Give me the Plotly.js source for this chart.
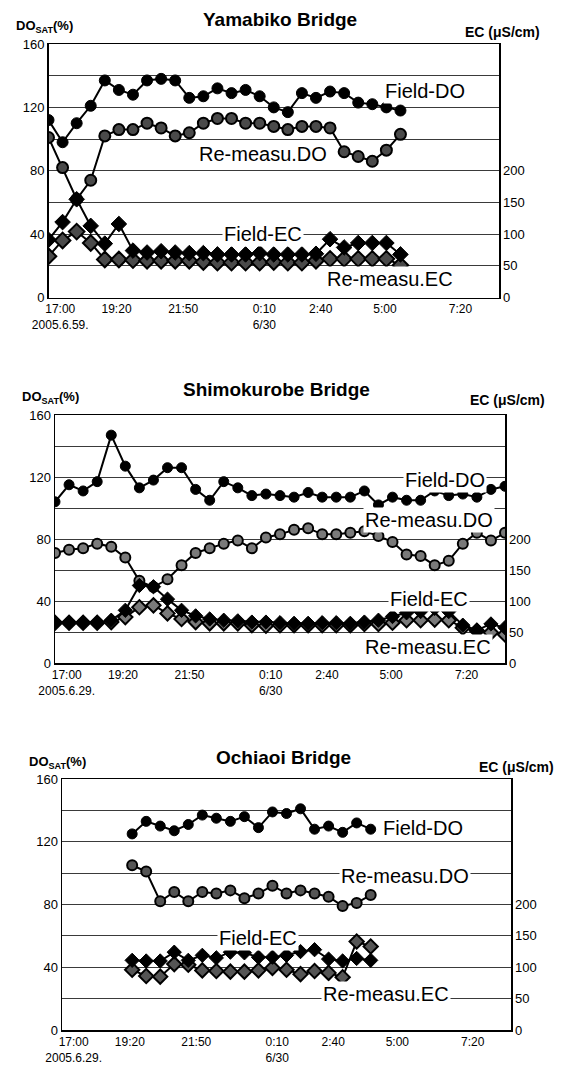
<!DOCTYPE html>
<html>
<head>
<meta charset="utf-8">
<script src="https://cdn.plot.ly/plotly-3.0.1.min.js"></script>
<style>html,body{margin:0;padding:0;background:#fff;}#chart{width:566px;height:1067px;}</style>
</head>
<body>
<div id="chart"></div>
<script>
// ---- data ----
const times = ["17:00","17:30","18:00","18:30","19:00","19:30","20:00","20:30","21:00","21:30","22:00","22:30","23:00","23:30","0:00","0:30","1:00","1:30","2:00","2:30","3:00","3:30","4:00","4:30","5:00","5:30","6:00","6:30","7:00","7:30","8:00","8:30","9:00"];
const tickLabels1 = ["17:00<br>2005.6.59.","19:20","21:50","0:10<br>6/30","2:40","5:00","7:20"];
const tickLabels2 = ["17:00<br>2005.6.29.","19:20","21:50","0:10<br>6/30","2:40","5:00","7:20"];
const titles = ["Yamabiko Bridge","Shimokurobe Bridge","Ochiaoi Bridge"];
const seriesNames = ["Field-DO","Re-measu.DO","Field-EC","Re-measu.EC"];

const p1Times = times.slice(0,26);
const p1FieldDO = [112,98,110,121,137,131,128,137,138,137,126,127,132,129,131,127,120,117,129,126,130,129,123,122,120,118];
const p1ReDO    = [101,82,62,74,102,106,106,110,107,102,104,110,113,113,110,110,108,106,108,108,107,92,89,86,93,103];
const p1FieldEC = [91,119,155,113,85,116,74,71,73,71,70,70,68,68,68,70,68,68,68,69,92,79,86,86,86,68];
const p1ReEC    = [65,90,104,86,60,60,59,58,58,58,58,56,55,55,55,55,56,55,55,58,61,61,61,61,61,51];

const p2Times = times.slice(0,33);
const p2FieldDO = [104,115,111,117,147,127,113,118,126,126,112,105,117,113,108,109,108,107,110,107,107,107,111,102,107,105,105,111,108,109,107,112,114];
const p2ReDO    = [71,73,74,77,75,68,53,49,54,63,71,74,77,79,74,81,83,86,87,83,83,84,85,82,78,70,69,63,66,77,84,79,84];
const p2FieldEC = [65,65,65,65,69,85,125,123,103,85,76,71,69,68,66,66,65,64,64,65,65,64,66,69,75,81,83,88,83,61,53,63,57];
const p2ReEC    = [65,65,65,65,66,74,90,93,80,71,66,64,64,64,61,60,61,61,61,61,61,61,63,63,65,69,69,70,69,57,52,49,46];

const p3Times = times.slice(5,23);
const p3FieldDO = [125,133,130,127,131,137,135,133,136,129,139,138,141,128,130,126,132,128];
const p3ReDO    = [105,101,82,88,82,88,87,89,84,87,92,87,89,87,85,79,81,86];
const p3FieldEC = [111,110,110,124,111,119,115,124,123,116,116,119,125,128,113,110,114,111];
const p3ReEC    = [96,86,85,105,104,95,94,93,93,95,99,96,89,94,91,84,141,133];

// ---- helpers ----
function toMin(s){ const [h,m] = s.split(':').map(Number); let t = h*60+m-17*60; if(t<0) t+=1440; return t; }
const W = 566, H = 1067;
const fx = x => x/W, fy = y => 1 - y/H;
const FONT = "Liberation Sans, Arial, Helvetica, sans-serif";
const tickPos = [25,145,287,460,580,717,878];

const panels = [
  {t:p1Times, d:[p1FieldDO,p1ReDO,p1FieldEC,p1ReEC], box:[48.5,499,44,297.5], ms:11, ticks:tickLabels1,
   reFill:'#4a4a4a', title:[280,20], dol:[14,27], ecl:[542,32],
   labels:[[383,91],[197,154],[222,234],[325,279]]},
  {t:p2Times, d:[p2FieldDO,p2ReDO,p2FieldEC,p2ReEC], box:[55,505,415,663], ms:10, ticks:tickLabels2,
   reFill:'#7a7a7a', title:[276,389], dol:[20,397], ecl:[547,400],
   labels:[[403,480],[363,520],[388,599],[363,647]]},
  {t:p3Times, d:[p3FieldDO,p3ReDO,p3FieldEC,p3ReEC], box:[62,511,779,1030], ms:10, ticks:tickLabels2,
   reFill:'#555555', title:[283,757], dol:[27,762], ecl:[556,767],
   labels:[[381,828],[339,876],[217,938],[321,994]]}
];

const traces = [];
const layout = {
  width:W, height:H, margin:{l:0,r:0,t:0,b:0}, showlegend:false,
  paper_bgcolor:'#fff', plot_bgcolor:'#fff',
  font:{family:FONT, color:'#000'}, annotations:[]
};
const symbols = ['circle','circle','diamond','diamond'];
const drawOrder = [3,1,2,0];

panels.forEach((p,i)=>{
  const n = i+1;
  const xa = n===1 ? 'xaxis' : 'xaxis'+n;
  const xr = n===1 ? 'x' : 'x'+n;
  const yL = 2*i+1, yR = 2*i+2;
  const yaL = yL===1 ? 'yaxis' : 'yaxis'+yL;
  const yrL = yL===1 ? 'y' : 'y'+yL;
  const yaR = 'yaxis'+yR, yrR = 'y'+yR;
  const [x0,x1,y0,y1] = p.box;
  layout[xa] = {domain:[fx(x0),fx(x1)], anchor:yrL, range:[0,960], tickvals:tickPos, ticktext:p.ticks,
    showline:true, mirror:true, linecolor:'#000', linewidth:1.5, showgrid:false, zeroline:false, ticks:'',
    tickfont:{size:12, family:FONT, color:'#000'}, fixedrange:true};
  layout[yaL] = {domain:[fy(y1),fy(y0)], anchor:xr, range:[0,160], tickvals:[0,40,80,120,160],
    showgrid:true, gridcolor:'#3a3a3a', gridwidth:1,
    minor:{dtick:20, tick0:0, showgrid:true, gridcolor:'#3a3a3a', gridwidth:1, ticks:''},
    showline:true, linecolor:'#000', linewidth:1.5, zeroline:false, ticks:'',
    tickfont:{size:13, family:FONT, color:'#000'}, fixedrange:true};
  layout[yaR] = {overlaying:yrL, side:'right', anchor:xr, range:[0,400], tickvals:[0,50,100,150,200],
    showgrid:false, showline:true, linecolor:'#000', linewidth:1.5, zeroline:false, ticks:'',
    tickfont:{size:13, family:FONT, color:'#000'}, fixedrange:true};
  const xs = p.t.map(toMin);
  drawOrder.forEach(j=>{
    const isRe = (j===1 || j===3);
    traces.push({type:'scatter', mode:'lines+markers', name:seriesNames[j], x:xs, y:p.d[j],
      xaxis:xr, yaxis: j<2 ? yrL : yrR,
      line:{color:'#000', width: 2},
      marker:{symbol:symbols[j], size: j>=2 ? p.ms+1 : p.ms,
        color: isRe ? p.reFill : '#000',
        line:{color:'#000', width: isRe ? 2 : 1}},
      hoverinfo:'skip'});
  });
  layout.annotations.push({text:titles[i], xref:'paper', yref:'paper', x:fx(p.title[0]), y:fy(p.title[1]),
    xanchor:'center', yanchor:'middle', showarrow:false, font:{size:19, family:FONT, weight:'bold', color:'#000'}});
  layout.annotations.push({text:'DO<sub>SAT</sub>(%)', xref:'paper', yref:'paper', x:fx(p.dol[0]), y:fy(p.dol[1]),
    xanchor:'left', yanchor:'middle', showarrow:false, font:{size:13, family:FONT, weight:'bold', color:'#000'}});
  layout.annotations.push({text:'EC (μS/cm)', xref:'paper', yref:'paper', x:fx(p.ecl[0]), y:fy(p.ecl[1]),
    xanchor:'right', yanchor:'middle', showarrow:false, font:{size:14, family:FONT, weight:'bold', color:'#000'}});
  p.labels.forEach((l,j)=>{
    layout.annotations.push({text:seriesNames[j], xref:'paper', yref:'paper', x:fx(l[0]), y:fy(l[1]),
      xanchor:'left', yanchor:'middle', showarrow:false, bgcolor:'#fff', borderpad:1,
      font:{size:20, family:FONT, color:'#000'}});
  });
});

Plotly.newPlot('chart', traces, layout, {staticPlot:true, displayModeBar:false});
</script>
</body>
</html>
